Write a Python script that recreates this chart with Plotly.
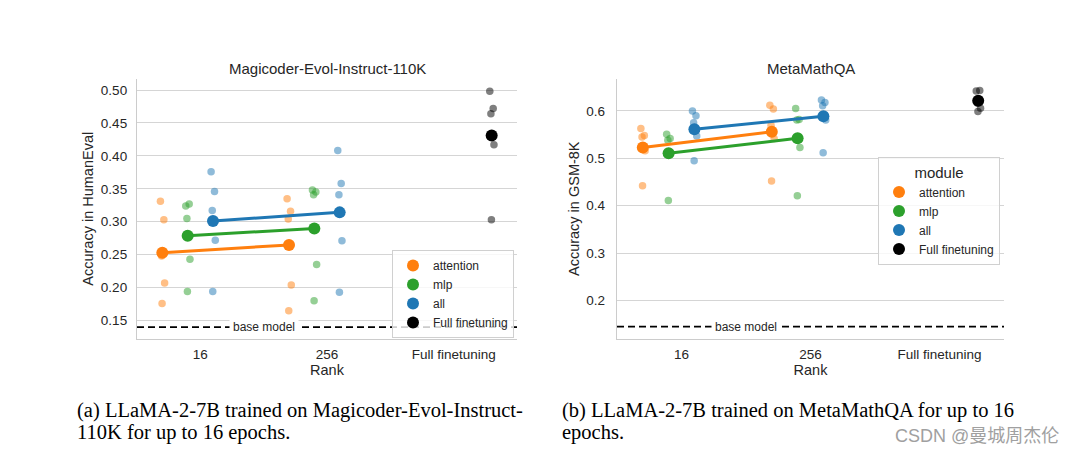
import numpy as np
import plotly.graph_objects as go

# ---------------- data ----------------
CATEGORIES = ["16", "256", "Full finetuning"]
MODULES = ["attention", "mlp", "all"]
FULL_NAME = "Full finetuning"

# HumanEval accuracy per run: [rank 16 runs, rank 256 runs]
HE_ATTENTION = [[0.331, 0.303, 0.248, 0.207, 0.176], [0.335, 0.316, 0.304, 0.204, 0.165]]
HE_MLP = [[0.324, 0.327, 0.305, 0.243, 0.194], [0.348, 0.345, 0.341, 0.235, 0.180]]
HE_ALL = [[0.376, 0.346, 0.317, 0.272, 0.194], [0.408, 0.358, 0.341, 0.271, 0.193]]
HE_FULL = [0.498, 0.472, 0.464, 0.417, 0.303]
HE_BASE = 0.14
HE_YTICKS = [0.15, 0.20, 0.25, 0.30, 0.35, 0.40, 0.45, 0.50]

# GSM-8K accuracy per run: [rank 16 runs, rank 256 runs]
GSM_ATTENTION = [[0.563, 0.548, 0.545, 0.516, 0.442], [0.612, 0.604, 0.570, 0.542, 0.452]]
GSM_MLP = [[0.551, 0.542, 0.538, 0.512, 0.411], [0.605, 0.582, 0.581, 0.523, 0.421]]
GSM_ALL = [[0.600, 0.590, 0.575, 0.547, 0.495], [0.623, 0.618, 0.611, 0.581, 0.512]]
GSM_FULL = [0.642, 0.643, 0.617, 0.606, 0.599]
GSM_BASE = 0.145
GSM_YTICKS = [0.2, 0.3, 0.4, 0.5, 0.6]

# ---------------- style ----------------
COLORS = ["#ff7f0e", "#2ca02c", "#1f77b4"]
FULL_COLOR = "#000000"
DODGE = np.linspace(-0.3, 0.3, 4)          # pointplot dodge for 4 hue levels
JITTER = [-0.015, 0.012, -0.006, 0.018, -0.002]  # strip jitter pattern
FONT = "Liberation Sans, Arial, sans-serif"
TXT = "#262626"
GRID = "#d5d5d5"

W, H = 1076, 457
def px_x(a, b):
    return [a / W, b / W]
Y_DOM = [1 - 338.5 / H, 1 - 79 / H]

fig = go.Figure()


def add_panel(xa, ya, series, full, base):
    # strips
    for mi, runs in enumerate(series):
        for ci, vals in enumerate(runs):
            xs = [ci + DODGE[mi] + JITTER[k % len(JITTER)] for k in range(len(vals))]
            fig.add_trace(go.Scatter(
                x=xs, y=vals, mode="markers", xaxis=xa, yaxis=ya,
                marker=dict(size=7.5, color=COLORS[mi], opacity=0.5, line=dict(width=0)),
                showlegend=False, hoverinfo="skip"))
    xs = [2 + DODGE[3] + JITTER[k % len(JITTER)] for k in range(len(full))]
    fig.add_trace(go.Scatter(
        x=xs, y=full, mode="markers", xaxis=xa, yaxis=ya,
        marker=dict(size=7.5, color=FULL_COLOR, opacity=0.5, line=dict(width=0)),
        showlegend=False, hoverinfo="skip"))
    # means
    for mi, runs in enumerate(series):
        means = [float(np.mean(v)) for v in runs]
        xs = [ci + DODGE[mi] for ci in range(len(runs))]
        fig.add_trace(go.Scatter(
            x=xs, y=means, mode="lines+markers", xaxis=xa, yaxis=ya,
            line=dict(color=COLORS[mi], width=3),
            marker=dict(size=12, color=COLORS[mi]),
            showlegend=False, hoverinfo="skip"))
    fig.add_trace(go.Scatter(
        x=[2 + DODGE[3]], y=[float(np.mean(full))], mode="markers", xaxis=xa, yaxis=ya,
        marker=dict(size=12, color=FULL_COLOR), showlegend=False, hoverinfo="skip"))
    # base model line
    fig.add_shape(type="line", xref=f"{xa} domain", x0=0, x1=1, yref=ya, y0=base, y1=base,
                  line=dict(color="black", width=1.8, dash="7px,4px"))
    fig.add_annotation(x=0.5, y=base, xref=xa, yref=ya, text="base model", showarrow=False,
                       bgcolor="white", borderpad=3, font=dict(size=12, color=TXT, family=FONT))


def add_legend(legend_id):
    for mi, name in enumerate(MODULES + [FULL_NAME]):
        col = COLORS[mi] if mi < 3 else FULL_COLOR
        fig.add_trace(go.Scatter(
            x=[None], y=[None], mode="markers", name=name, legend=legend_id,
            marker=dict(size=12, color=col), showlegend=True, hoverinfo="skip"))


add_panel("x", "y", [HE_ATTENTION, HE_MLP, HE_ALL], HE_FULL, HE_BASE)
add_panel("x2", "y2", [GSM_ATTENTION, GSM_MLP, GSM_ALL], GSM_FULL, GSM_BASE)
add_legend("legend")
add_legend("legend2")

axis_common = dict(showline=True, linecolor="#cccccc", linewidth=1.3, ticks="",
                   zeroline=False, automargin=False,
                   tickfont=dict(size=13.5, color=TXT, family=FONT))

fig.update_layout(
    width=W, height=H, margin=dict(l=0, r=0, t=0, b=0),
    paper_bgcolor="white", plot_bgcolor="white",
    font=dict(family=FONT, color=TXT),
    xaxis=dict(domain=px_x(137, 517), range=[-0.5, 2.5], tickvals=[0, 1, 2],
               ticktext=CATEGORIES, showgrid=False, anchor="y", ticklabelstandoff=3,
               title=dict(text="Rank", font=dict(size=14.5, color=TXT), standoff=2), **axis_common),
    yaxis=dict(domain=Y_DOM, range=[0.1227, 0.5167], tickvals=HE_YTICKS, tickformat=".2f",
               showgrid=True, gridcolor=GRID, gridwidth=1, anchor="x", ticklabelstandoff=6,
               title=dict(text="Accuracy in HumanEval", font=dict(size=14.5, color=TXT), standoff=3),
               **axis_common),
    xaxis2=dict(domain=px_x(617, 1004), range=[-0.5, 2.5], tickvals=[0, 1, 2],
                ticktext=CATEGORIES, showgrid=False, anchor="y2", ticklabelstandoff=3,
                title=dict(text="Rank", font=dict(size=14.5, color=TXT), standoff=2), **axis_common),
    yaxis2=dict(domain=Y_DOM, range=[0.1198, 0.6675], tickvals=GSM_YTICKS, tickformat=".1f",
                showgrid=True, gridcolor=GRID, gridwidth=1, anchor="x2", ticklabelstandoff=8,
                title=dict(text="Accuracy in GSM-8K", font=dict(size=14.5, color=TXT), standoff=3),
                **axis_common),
    legend=dict(x=392 / W, y=1 - 338 / H, xanchor="left", yanchor="bottom",
                bgcolor="rgba(255,255,255,0.8)", bordercolor="#d0d0d0", borderwidth=1,
                font=dict(size=12, color=TXT, family=FONT), itemsizing="trace", tracegroupgap=0),
    legend2=dict(x=878 / W, y=1 - 157 / H, xanchor="left", yanchor="top",
                 bgcolor="rgba(255,255,255,0.8)", bordercolor="#d0d0d0", borderwidth=1,
                 font=dict(size=12, color=TXT, family=FONT), itemsizing="trace", tracegroupgap=0,
                 title=dict(text="module", side="top center", font=dict(size=15, color=TXT))),
    showlegend=True,
)

# subplot titles
fig.add_annotation(x=327 / W, y=1 - 69 / H, xref="paper", yref="paper", text="Magicoder-Evol-Instruct-110K",
                   showarrow=False, xanchor="center", yanchor="middle", font=dict(size=15, color=TXT, family=FONT))
fig.add_annotation(x=810.5 / W, y=1 - 69 / H, xref="paper", yref="paper", text="MetaMathQA",
                   showarrow=False, xanchor="center", yanchor="middle", font=dict(size=15, color=TXT, family=FONT))

# captions
SERIF = "Liberation Serif, Times New Roman, serif"
CAPTIONS = [
    (75, 410, "(a) LLaMA-2-7B trained on Magicoder-Evol-Instruct-"),
    (75, 432, "110K for up to 16 epochs."),
    (560, 410, "(b) LLaMA-2-7B trained on MetaMathQA for up to 16"),
    (560, 432, "epochs."),
]
for cx, cy, t in CAPTIONS:
    fig.add_annotation(x=cx / W, y=1 - cy / H, xref="paper", yref="paper", text=t, showarrow=False,
                       xanchor="left", yanchor="middle", font=dict(size=20.5, color="black", family=SERIF))

fig.add_annotation(x=1061 / W, y=1 - 436 / H, xref="paper", yref="paper", text="CSDN @曼城周杰伦",
                   showarrow=False, xanchor="right", yanchor="middle",
                   font=dict(size=18, color="#a0a0a0", family="Liberation Sans, Noto Sans CJK SC, sans-serif"))

fig.write_html("out.html", config={"displayModeBar": False},
               post_script="document.body.style.margin='0';")
